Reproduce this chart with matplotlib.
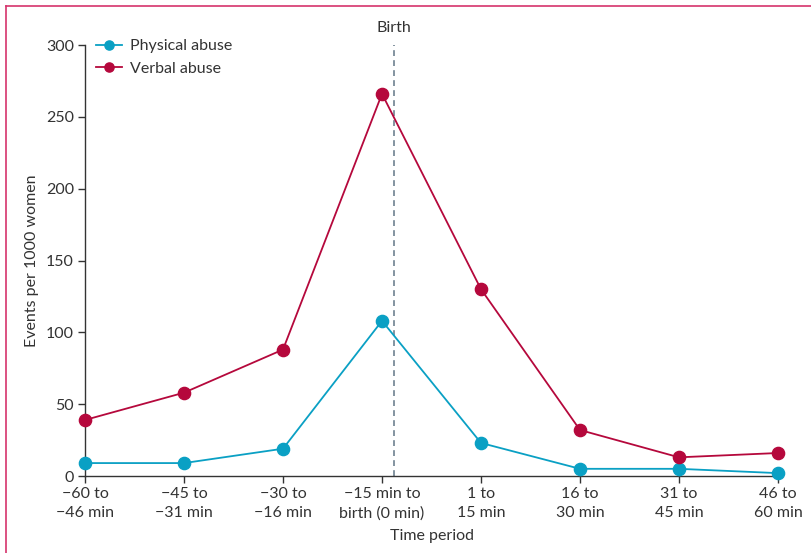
import matplotlib
matplotlib.use("Agg")
import matplotlib.pyplot as plt
from matplotlib.lines import Line2D

plt.rcParams["font.family"] = ["Lato", "DejaVu Sans"]

periods = ["\u221260 to\n\u221246 min", "\u221245 to\n\u221231 min", "\u221230 to\n\u221216 min",
           "\u221215 min to\nbirth (0 min)", "1 to\n15 min", "16 to\n30 min", "31 to\n45 min", "46 to\n60 min"]
physical = [9, 9, 19, 108, 23, 5, 5, 2]
verbal = [39, 58, 88, 266, 130, 32, 13, 16]
birth_pos = 3.12

C_PHYS = "#0aa0c4"
C_VERB = "#b5083c"
TXT = "#333333"

W, H = 811, 553
fig = plt.figure(figsize=(W / 100, H / 100), dpi=100)
ax = fig.add_axes([85 / W, (H - 476) / H, (778 - 85) / W, (476 - 45) / H])

x = list(range(len(periods)))
ax.plot(x, physical, "-o", color=C_PHYS, lw=1.3, ms=8.8, clip_on=False, zorder=3, label="Physical abuse")
ax.plot(x, verbal, "-o", color=C_VERB, lw=1.3, ms=8.8, clip_on=False, zorder=3, label="Verbal abuse")

ax.axvline(birth_pos, ymin=0, ymax=1, color="#6e8290", lw=1.2, ls=(0, (3.5, 2.5)), zorder=1)
ax.text(birth_pos, 307, "Birth", ha="center", va="bottom", fontsize=11.5, color=TXT)

ax.set_xlim(0, 7)
ax.set_ylim(0, 300)
ax.set_yticks(range(0, 301, 50))
ax.set_xticks(x)
ax.set_xticklabels(periods, fontsize=11.5, color=TXT, linespacing=1.45)
ax.tick_params(axis="y", labelsize=11.5, labelcolor=TXT, color=TXT, length=5, width=1, pad=3)
ax.tick_params(axis="x", color=TXT, length=5, width=1, pad=3)
for s in ["top", "right"]:
    ax.spines[s].set_visible(False)
for s in ["left", "bottom"]:
    ax.spines[s].set_color(TXT)
    ax.spines[s].set_linewidth(1)

ax.set_ylabel("Events per 1000 women", fontsize=11.5, color=TXT, labelpad=5)
ax.set_xlabel("Time period", fontsize=11.5, color=TXT, labelpad=6)

ax.legend(loc="upper left", bbox_to_anchor=(0.0, 1.04), frameon=False, fontsize=11.5,
          labelcolor=TXT, handlelength=1.6, handletextpad=0.5, labelspacing=0.55,
          borderaxespad=0.3, markerscale=0.75)

# pink frame around figure
border = "#d6336c"
fig.add_artist(Line2D([6 / W, 6 / W], [0, 1 - 6 / H], transform=fig.transFigure, color=border, lw=1.2))
fig.add_artist(Line2D([6 / W, 1], [1 - 6 / H, 1 - 6 / H], transform=fig.transFigure, color=border, lw=1.2))

fig.savefig("out.png", dpi=100, facecolor="white")
